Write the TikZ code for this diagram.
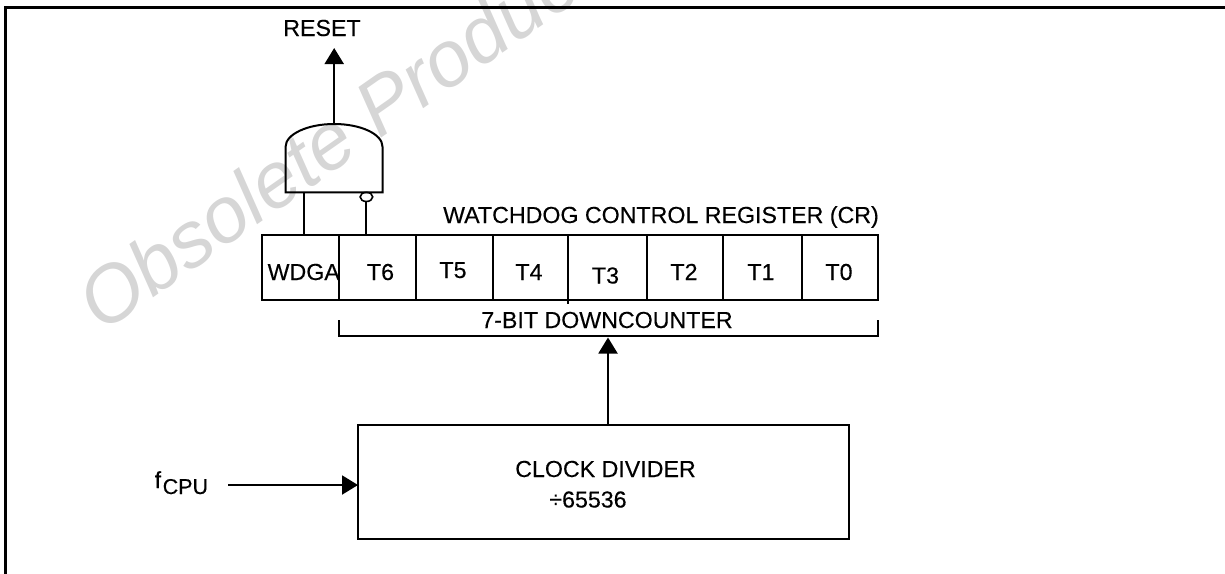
\documentclass[tikz,border=0pt]{standalone}
\usepackage{fontspec}
\setmainfont{Liberation Sans}
\newfontfamily\lblfont[FakeBold=0.25]{Liberation Sans}
\usetikzlibrary{arrows.meta,shapes.geometric}
\begin{document}
\begin{tikzpicture}[x=1pt,y=-1pt,
  lbl/.style={font=\lblfont\fontsize{23.2}{26}\selectfont, inner sep=0pt, anchor=base},
  wire/.style={line width=2pt},
  arr/.style={wire,-{Triangle[length=16pt,width=19pt]}},
  cellbox/.style={draw, line width=2pt, inner sep=0pt, outer sep=0pt, minimum height=65pt, anchor=north west},
  blockbox/.style={draw, line width=2pt, inner sep=0pt, outer sep=0pt, anchor=north west}]
\useasboundingbox (0,0) rectangle (1225,573);
% watermark
\node[rotate=35, anchor=base west, text=black!16, inner sep=0pt,
      font=\fontsize{79}{90}\selectfont\itshape] (wm) at (102,334) {Obsolete Product(s)};
% frame
\draw[line width=2.5pt] (5.3,585) -- (5.3,7.5) -- (1235,7.5);
% register cells
\node[cellbox, minimum width=77pt]   (wdga) at (262,235) {};
\node[cellbox, minimum width=77pt]   (t6) at (339,235) {};
\node[cellbox, minimum width=77pt]   (t5) at (416,235) {};
\node[cellbox, minimum width=74.5pt] (t4) at (493,235) {};
\node[cellbox, minimum width=79.5pt] (t3) at (567.5,235) {};
\node[cellbox, minimum width=76pt]   (t2) at (647,235) {};
\node[cellbox, minimum width=79pt]   (t1) at (723,235) {};
\node[cellbox, minimum width=76pt]   (t0) at (802,235) {};
\draw[wire] (t3.south west) -- ++(0,4);
% cell labels
\node[lbl, anchor=base east] (lwdga) at (340,280) {WDGA};
\node[lbl] (l6) at (380.5,280) {T6};
\node[lbl] (l5) at (453,278) {T5};
\node[lbl] (l4) at (529,280) {T4};
\node[lbl] (l3) at (605.5,283.5) {T3};
\node[lbl] (l2) at (684,280) {T2};
\node[lbl] (l1) at (761,280) {T1};
\node[lbl] (l0) at (839,280) {T0};
\node[lbl, anchor=base east] (cr) at (879,223) {WATCHDOG CONTROL REGISTER (CR)};
% bracket
\coordinate (brL) at (339,320);
\coordinate (brR) at (878,320);
\draw[wire] (brL) -- (brL |- 0,336) -- (brR |- 0,336) -- (brR);
\node[lbl] (dc) at (607,328) {7-BIT DOWNCOUNTER};
% gate
\coordinate (gout) at (334.2,124);
\draw[wire] (285.6,192.3) -- (285.6,146.7)
  .. controls (285.6,134.2) and (307.5,124) .. (gout)
  .. controls (361,124) and (382.5,134.2) .. (382.5,146.7)
  -- (382.5,192.3) -- cycle;
\coordinate (gin1) at (304.4,192.3);
\node[draw, ellipse, line width=1.6pt, minimum width=12.6pt, minimum height=9.2pt, inner sep=0pt, outer sep=0pt] (bub) at (366.4,196.9) {};
\draw[wire] (gin1) -- (gin1 |- wdga.north);
\draw[wire] (bub.south) -- (bub.south |- t6.north);
\coordinate (rtip) at (334.2,48);
\draw[arr] (gout) -- (rtip);
\node[lbl] (reset) at (322,36) {RESET};
% clock divider
\node[blockbox, minimum width=491pt, minimum height=114.3pt] (clk) at (358,425) {};
\node[lbl] (clkt) at (605.5,477) {CLOCK DIVIDER};
\node[lbl] (divt) at (588,507.5) {\char"00F7 65536};
\coordinate (ctip) at (608,337.5);
\draw[arr] (ctip |- clk.north) -- (ctip);
% fcpu
\node[lbl, anchor=base west] (f) at (154.5,488) {f};
\node[lbl, anchor=base west, font=\lblfont\fontsize{21.5}{24}\selectfont] (cpu) at (162.5,494) {CPU};
\coordinate (fin) at (228,485);
\draw[arr] (fin) -- (fin -| clk.west);
\end{tikzpicture}
\end{document}
